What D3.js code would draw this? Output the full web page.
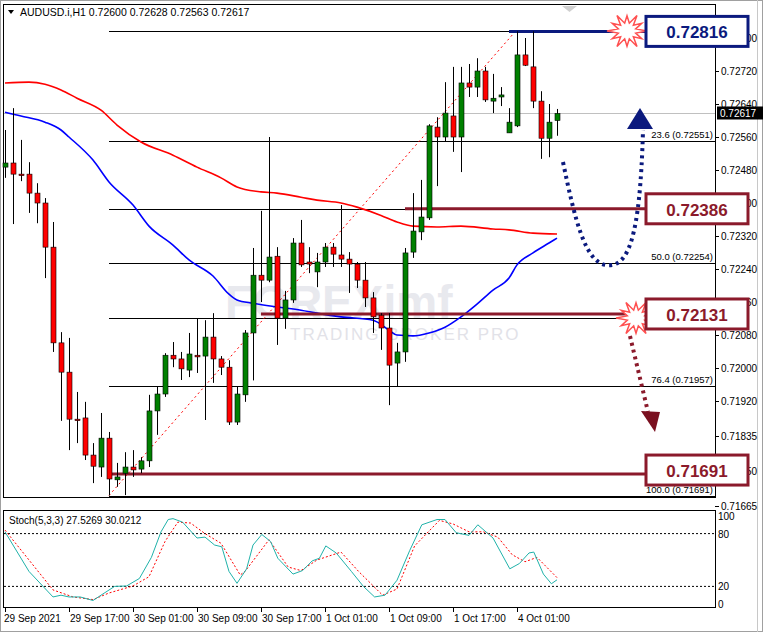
<!DOCTYPE html>
<html><head><meta charset="utf-8">
<script src="https://cdn.jsdelivr.net/npm/d3@7"></script>
<style>body{margin:0;background:#fff}svg{display:block;font-family:"Liberation Sans",Arial,sans-serif}</style>
</head><body><svg id="c" width="763" height="632"></svg>
<script>
// OHLC per hourly candle (open, high, low, close)
var opens  = [.72487,.72497,.72470,.72470,.72424,.72400,.72293,.72061,.71990,.71876,.71879,.71789,.71760,.71830,.71729,.71745,.71760,.71755,.71775,.71896,.71937,.72031,.72022,.71995,.72031,.72029,.72075,.72022,.72002,.71869,.71935,.72085,.72225,.72213,.72271,.72121,.72165,.72303,.72257,.72233,.72257,.72293,.72274,.72264,.72252,.72213,.72170,.72128,.72097,.72012,.72039,.72281,.72330,.72364,.72584,.72560,.72611,.72560,.72691,.72681,.72720,.72647,.72657,.72570,.72587,.72759,.72730,.72647,.72557,.72600];
var highs  = [.72577,.72630,.72553,.72499,.72448,.72412,.72354,.72087,.72073,.71942,.71918,.71818,.71891,.71845,.71770,.71796,.71801,.71784,.71935,.71954,.72036,.72063,.72039,.72085,.72121,.72116,.72133,.72029,.72019,.71954,.72092,.72291,.72381,.72560,.72293,.72187,.72315,.72359,.72293,.72279,.72303,.72303,.72395,.72281,.72257,.72257,.72184,.72133,.72133,.72061,.72291,.72424,.72456,.72591,.72608,.72693,.72730,.72730,.72737,.72751,.72730,.72713,.72681,.72630,.72816,.72800,.72816,.72671,.72640,.72628];
var lows   = [.72461,.72349,.72453,.72376,.72351,.72218,.72039,.71872,.71801,.71818,.71777,.71721,.71736,.71691,.71712,.71692,.71736,.71745,.71760,.71838,.71930,.72002,.71971,.71978,.71988,.71874,.71964,.71983,.71862,.71862,.71918,.71970,.72160,.72208,.72056,.72095,.72158,.72245,.72230,.72196,.72245,.72245,.72245,.72182,.72194,.72148,.72085,.72044,.71910,.71954,.72015,.72267,.72310,.72359,.72441,.72548,.72524,.72475,.72657,.72657,.72645,.72618,.72635,.72570,.72584,.72732,.72630,.72507,.72511,.72563];
var closes = [.72497,.72470,.72468,.72424,.72400,.72293,.72061,.71990,.71876,.71874,.71789,.71762,.71830,.71731,.71736,.71760,.71753,.71775,.71896,.71937,.72031,.72022,.71998,.72034,.72027,.72075,.72022,.72002,.71869,.71937,.72085,.72225,.72213,.72269,.72121,.72165,.72303,.72250,.72252,.72257,.72293,.72276,.72264,.72252,.72213,.72170,.72124,.72097,.72007,.72039,.72279,.72332,.72366,.72587,.72560,.72618,.72560,.72691,.72681,.72720,.72650,.72654,.72662,.72596,.72759,.72734,.72647,.72557,.72596,.72617];
// moving averages [bar index, value]
var maSlow = [[0,.72691],[3,.72693],[5,.72688],[7,.72674],[9,.72654],[12,.72625],[14,.72589],[17,.72548],[21,.72516],[24,.72487],[27,.72461],[29,.72439],[32,.72427],[34,.72424],[37,.72414],[39,.72407],[42,.72400],[44,.72390],[47,.72370],[49,.72354],[51,.72344],[54,.72342],[57,.72344],[61,.72337],[63,.72335],[66,.72327],[69,.72325]];
var maFast = [[0,.72620],[2,.72611],[5,.72596],[7,.72577],[8,.72560],[11,.72504],[13,.72451],[16,.72395],[18,.72344],[21,.72298],[23,.72262],[26,.72223],[28,.72179],[29,.72165],[31,.72157],[34,.72148],[37,.72140],[39,.72133],[42,.72124],[46,.72116],[48,.72092],[49,.72080],[51,.72078],[53,.72085],[55,.72099],[57,.72124],[59,.72155],[61,.72189],[63,.72218],[64,.72250],[66,.72279],[68,.72303],[69,.72315]];
// stochastic %K and %D [bar index, value]
var stochK = [[0,82],[3,37],[6,8],[7,10],[8,8],[9.4,8],[11,4],[12,10],[13.7,20],[15.2,20.5],[16.8,29],[18.3,53],[19.5,82],[20.4,96],[21,97],[22.2,93],[24,75],[25,76],[26.2,67],[27.1,65],[28,37],[29,23.5],[30.2,40],[31,67],[32.1,79],[33.2,71],[34.1,52],[36,34],[37.2,38],[38.4,49],[39.3,52],[40.1,66],[41.4,58],[43.3,37],[44.8,20],[46.2,8],[47.5,10],[49,27],[50.6,61],[52.1,90],[54,96],[55,96],[56.4,81],[58,78],[59.1,90],[61,75],[63.1,40],[64.3,46],[65.5,58],[66.1,59],[67.3,34],[68.3,23],[69,27.5]];
var stochD = [[0,84],[3,50],[6,16],[8.5,8],[11,5],[13,12.5],[16,20.5],[18,31],[20,71],[21.6,93],[23.2,92],[25,80],[27,69],[29.4,33],[30,37],[33,73],[35.4,42],[37,38],[39,50],[42,59],[44.2,37],[47.2,10],[49,17],[51.2,66],[54.3,95],[56,91],[58,82],[59.8,82],[61.6,76],[63.4,56],[65,48],[66.5,53],[69,30]];
var priceTicks = [0.72800,0.72720,0.72640,0.72560,0.72480,0.72400,0.72320,0.72240,0.72160,0.72080,0.72000,0.71920,0.71835,0.71750,0.71665];
var fibLevels = [["0.0",0.72816],["23.6",0.72551],["38.2",0.72386],["50.0",0.72254],["61.8",0.72121],["76.4",0.71957],["100.0",0.71691]];
var dateLabels = ["29 Sep 2021","29 Sep 17:00","30 Sep 01:00","30 Sep 09:00","30 Sep 17:00","1 Oct 01:00","1 Oct 09:00","1 Oct 17:00","4 Oct 01:00"];
// level boxes: label value, where the line is drawn, start bar
var levelValues = [0.72816,0.72386,0.72131,0.71691];
var levelDrawn  = [0.72816,0.72386,0.72131,0.71743];
var levelStart  = [63,50,32,13];
var levelColors = ["#0b1a7e","#8b1a2b","#8b1a2b","#8b1a2b"];
var lastPrice = 0.72617;

var svg = d3.select("#c");
var x = d3.scaleLinear().domain([0,69]).range([5,557]);
var y = d3.scaleLinear().domain([0.71691,0.72816]).range([495.5,31.4]);
var ys = d3.scaleLinear().domain([0,100]).range([604,516]);

// window frame
svg.append("rect").attr("x",0.5).attr("y",0.5).attr("width",762).attr("height",631).attr("fill","#fff").attr("stroke","#a0a0a0");
svg.append("rect").attr("x",3.5).attr("y",4.5).attr("width",712).attr("height",493).attr("fill","none").attr("stroke","#000");
svg.append("rect").attr("x",3.5).attr("y",510.5).attr("width",712).attr("height",97).attr("fill","none").attr("stroke","#000");
svg.append("line").attr("x1",757.5).attr("x2",757.5).attr("y1",0).attr("y2",632).attr("stroke","#c8c8c8");
svg.append("path").attr("d","M562,6 L577,6 L569.5,12Z").attr("fill","#d0d0d0");

// watermark
svg.append("text").attr("x",225).attr("y",318).attr("font-size",46).attr("font-weight","bold").attr("fill","#dfe0e8").attr("opacity",0.7).text("FOREXimf");
svg.append("text").attr("x",290).attr("y",340).attr("font-size",17).attr("fill","#e2e2e8").attr("letter-spacing",2).text("TRADING BROKER PRO");

// price axis
svg.selectAll(".pt").data(priceTicks).join("text").attr("x",721).attr("y",d=>y(d)+4).attr("font-size",10).attr("fill","#000").text(d=>d.toFixed(5));
svg.selectAll(".ptk").data(priceTicks).join("line").attr("x1",715).attr("x2",719).attr("y1",d=>Math.round(y(d))+0.5).attr("y2",d=>Math.round(y(d))+0.5).attr("stroke","#000");

// current price line
svg.append("line").attr("x1",4).attr("x2",715).attr("y1",Math.round(y(lastPrice))+0.5).attr("y2",Math.round(y(lastPrice))+0.5).attr("stroke","#c0c0c0");

// fibonacci levels
svg.selectAll(".fib").data(fibLevels).join("line").attr("x1",x(13)).attr("x2",715)
  .attr("y1",d=>Math.round(y(d[1]))+0.5).attr("y2",d=>Math.round(y(d[1]))+0.5).attr("stroke","#000");
svg.selectAll(".fibt").data(fibLevels.filter(d=>d[0]!="0.0")).join("text").attr("x",713).attr("y",d=>y(d[1])-3)
  .attr("text-anchor","end").attr("font-size",9.5).text(d=>d[0]+" ("+d[1].toFixed(5)+")");
svg.append("line").attr("x1",x(13)).attr("y1",y(0.71691)).attr("x2",x(63.8)).attr("y2",y(0.72816))
  .attr("stroke","#ff0000").attr("stroke-dasharray","2,3");

// moving averages
var lx = d3.line().x(d=>x(d[0])).y(d=>y(d[1])).curve(d3.curveMonotoneX);
svg.append("path").attr("d",lx(maSlow)).attr("fill","none").attr("stroke","#ff0000").attr("stroke-width",1.6);
svg.append("path").attr("d",lx(maFast)).attr("fill","none").attr("stroke","#0000ff").attr("stroke-width",1.6);

// key level lines
levelDrawn.forEach((v,k)=>svg.append("line").attr("x1",x(levelStart[k])).attr("x2",646).attr("y1",y(v)).attr("y2",y(v))
  .attr("stroke",levelColors[k]).attr("stroke-width",3));

// candles
var idx = d3.range(opens.length);
var g = svg.append("g");
g.selectAll(".w").data(idx).join("line").attr("x1",i=>Math.round(x(i))+0.5).attr("x2",i=>Math.round(x(i))+0.5)
  .attr("y1",i=>y(highs[i])).attr("y2",i=>y(lows[i])).attr("stroke","#000");
g.selectAll(".b").data(idx).join("rect").attr("x",i=>Math.round(x(i))-2).attr("width",5)
  .attr("y",i=>y(Math.max(opens[i],closes[i]))).attr("height",i=>Math.max(1.5,Math.abs(y(opens[i])-y(closes[i]))))
  .attr("fill",i=>closes[i]>=opens[i]?"#008000":"#ff0000").attr("stroke","#000").attr("stroke-width",0.6);

// starbursts
function burst(cx,cy){
  var pts=d3.range(24).map(k=>{var a=k/24*2*Math.PI, r=k%2?9:17+(k%4==0?3:0); return [cx+r*Math.cos(a),cy+r*Math.sin(a)*0.9];});
  svg.append("path").attr("d","M"+pts.join("L")+"Z").attr("fill","#fff").attr("stroke","#ff5050").attr("stroke-width",1.5);
}
burst(627,31); burst(636,318);

// boxes (the last one sits a little above its line)
levelValues.forEach((v,k)=>{
  var cy = y(levelDrawn[k]) - (k==3?4:0);
  svg.append("rect").attr("x",646).attr("y",cy-15).attr("width",102).attr("height",30).attr("fill","#fff").attr("stroke",levelColors[k]).attr("stroke-width",3);
  svg.append("text").attr("x",697).attr("y",cy+7).attr("text-anchor","middle").attr("font-size",17).attr("font-weight","bold").attr("fill",levelColors[k]).text(v.toFixed(5));
});

// projected paths
svg.append("path").attr("d","M563,162 C575,220 585,262 606,265 C628,268 640,240 643,130").attr("fill","none")
  .attr("stroke","#0b1a7e").attr("stroke-width",4).attr("stroke-dasharray","3,4");
svg.append("path").attr("d","M627,129 L653,129 L640,108Z").attr("fill","#0b1a7e");
svg.append("path").attr("d","M630,336 L648,412").attr("stroke","#8b1a2b").attr("stroke-width",4).attr("stroke-dasharray","3,4");
svg.append("path").attr("d","M641,411 L660,412 L655,432Z").attr("fill","#7a1020");

// last price tag
svg.append("rect").attr("x",717).attr("y",y(lastPrice)-7).attr("width",46).attr("height",13).attr("fill","#000");
svg.append("text").attr("x",720).attr("y",y(lastPrice)+4).attr("font-size",10).attr("fill","#fff").text(lastPrice.toFixed(5));

// header
svg.append("path").attr("d","M8,10 L14,10 L11,14Z").attr("fill","#000");
svg.append("text").attr("x",20).attr("y",16).attr("font-size",10.5).text("AUDUSD.i,H1  0.72600 0.72628 0.72563 0.72617");

// stochastic pane
[80,20].forEach(v=>svg.append("line").attr("x1",4).attr("x2",715).attr("y1",ys(v)).attr("y2",ys(v)).attr("stroke","#000").attr("stroke-dasharray","2,2"));
svg.selectAll(".st").data([100,80,20,0]).join("text").attr("x",718).attr("y",d=>ys(d)+4).attr("font-size",10).text(d=>d);
var ls = d3.line().x(d=>x(d[0])).y(d=>ys(d[1]));
svg.append("path").attr("d",ls(stochD)).attr("fill","none").attr("stroke","#ff0000").attr("stroke-dasharray","2,2");
svg.append("path").attr("d",ls(stochK)).attr("fill","none").attr("stroke","#20b2aa");
svg.append("text").attr("x",9).attr("y",524).attr("font-size",10).text("Stoch(5,3,3) 27.5269 30.0212");

// time axis
svg.selectAll(".dt").data(dateLabels).join("text").attr("x",(d,i)=>x(i*8)+(i?1:-1)).attr("y",622).attr("font-size",10).text(d=>d);
svg.selectAll(".dtk").data(dateLabels).join("line").attr("x1",(d,i)=>Math.round(x(i*8))+0.5).attr("x2",(d,i)=>Math.round(x(i*8))+0.5)
  .attr("y1",607).attr("y2",612).attr("stroke","#000");
</script></body></html>
